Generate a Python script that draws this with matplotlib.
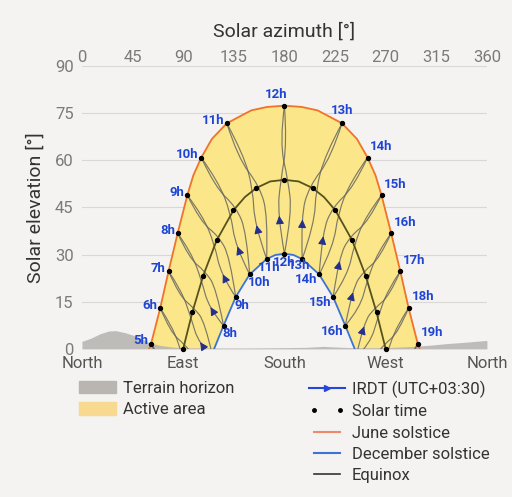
import matplotlib
matplotlib.use('Agg')
import matplotlib.pyplot as plt
from matplotlib.lines import Line2D
from matplotlib.patches import Patch, PathPatch
from matplotlib.path import Path
from matplotlib.legend_handler import HandlerLine2D

plt.rcParams['font.family'] = ['Roboto', 'DejaVu Sans']

# --- day paths (azimuth [deg], elevation [deg]) ---
june_az = [59.8, 61.5, 69.6, 77.0, 85.1, 93.7, 99.0, 106.1, 115.5, 128.8, 150.5, 164.6, 180.0,
           195.4, 209.5, 231.2, 244.5, 253.9, 261.0, 266.3, 274.9, 283.0, 290.4, 298.5, 300.2]
june_el = [0.0, 1.7, 13.0, 24.7, 36.8, 48.9, 55.2, 60.9, 66.8, 71.8, 75.9, 77.0, 77.4,
           77.0, 75.9, 71.8, 66.8, 60.9, 55.2, 48.9, 36.8, 24.7, 13.0, 1.7, 0.0]

eq_az = [90.0, 98.1, 107.8, 119.7, 134.7, 144.8, 155.0, 167.4, 180.0,
         192.6, 205.0, 215.2, 225.3, 240.3, 252.2, 261.9, 270.0]
eq_el = [0.0, 11.6, 23.3, 34.5, 44.1, 48.3, 51.2, 53.3, 53.8,
         53.3, 51.2, 48.3, 44.1, 34.5, 23.3, 11.6, 0.0]

dec_az = [117.5, 125.9, 136.7, 149.1, 164.2, 172.0, 180.0, 188.0, 195.8, 210.9, 223.3, 234.1, 242.5]
dec_el = [0.0, 7.4, 16.5, 23.7, 28.6, 29.9, 30.3, 29.9, 28.6, 23.7, 16.5, 7.4, 0.0]

# --- solar time dots ---
june_hours = list(range(5, 20))
june_dot_az = [61.5, 69.6, 77.0, 85.1, 93.7, 106.1, 128.8, 180.0, 231.2, 253.9, 266.3, 274.9, 283.0, 290.4, 298.5]
june_dot_el = [1.7, 13.0, 24.7, 36.8, 48.9, 60.9, 71.8, 77.4, 71.8, 60.9, 48.9, 36.8, 24.7, 13.0, 1.7]

eq_dot_az = [90.0, 98.1, 107.8, 119.7, 134.7, 155.0, 180.0, 205.0, 225.3, 240.3, 252.2, 261.9, 270.0]
eq_dot_el = [0.0, 11.6, 23.3, 34.5, 44.1, 51.2, 53.8, 51.2, 44.1, 34.5, 23.3, 11.6, 0.0]

dec_hours = list(range(8, 17))
dec_dot_az = [125.9, 136.7, 149.1, 164.2, 180.0, 195.8, 210.9, 223.3, 234.1]
dec_dot_el = [7.4, 16.5, 23.7, 28.6, 30.3, 28.6, 23.7, 16.5, 7.4]

# --- terrain horizon ---
terrain_az = [0, 8, 16, 24, 30, 38, 46, 55, 60, 70, 80, 90, 120, 150, 180, 200, 215, 225,
              240, 270, 295, 310, 325, 340, 350, 360]
terrain_el = [2.4, 3.4, 4.8, 5.7, 5.8, 5.2, 4.3, 2.9, 1.9, 1.1, 0.6, 0.35, 0.3, 0.3, 0.4, 0.5,
              0.8, 0.6, 0.4, 0.4, 0.8, 1.2, 1.7, 2.1, 2.4, 2.7]

# --- IRDT clock-hour analemmas, two branches per hour (branch a carries the arrow) ---
loop_a = {
    5: [(61.5, 1.7), (71.7, -4.2), (79.9, -13.0)],
    6: [(69.6, 13.0), (80.3, 7.2), (88.9, -1.5), (95.0, -9.7), (107.0, -14.0)],
    7: [(77.0, 24.7), (88.0, 18.9), (96.9, 10.1), (103.7, 1.7), (116.5, -2.8)],
    8: [(85.1, 36.8), (97.0, 30.8), (106.4, 21.8), (112.8, 13.0), (125.9, 7.4)],
    9: [(93.7, 48.9), (107.4, 42.4), (118.0, 33.2), (123.6, 23.6), (136.7, 16.5)],
    10: [(106.1, 60.9), (121.5, 53.1), (132.4, 43.0), (136.4, 32.7), (149.1, 23.7)],
    11: [(128.8, 71.8), (143.7, 61.9), (152.1, 50.6), (153.3, 39.8), (164.2, 28.6)],
    12: [(180.0, 77.4), (182.3, 65.6), (176.8, 53.8), (173.7, 43.2), (180.0, 30.3)],
    13: [(231.2, 71.8), (221.4, 60.8), (202.1, 51.8), (194.7, 42.3), (195.8, 28.6)],
    14: [(253.9, 60.9), (241.5, 51.4), (223.0, 45.2), (213.7, 37.2), (210.9, 23.7)],
    15: [(266.3, 48.9), (254.6, 40.5), (238.6, 35.9), (228.6, 29.4), (223.3, 16.5)],
    16: [(274.9, 36.8), (264.6, 28.8), (250.8, 24.8), (240.7, 19.5), (234.1, 7.4)],
    17: [(283.0, 24.7), (273.4, 16.9), (260.7, 13.1), (250.7, 8.7), (243.5, -2.8)],
    18: [(290.4, 13.0), (281.1, 5.2), (268.9, 1.5), (259.5, -2.7), (253.0, -14.0)],
    19: [(298.5, 1.7), (289.7, -6.2), (277.9, -10.0)],
}
loop_b = {
    5: [(61.5, 1.7), (70.4, -6.2), (82.1, -10.0)],
    6: [(69.6, 13.0), (78.9, 5.2), (91.1, 1.5), (100.5, -2.7), (107.0, -14.0)],
    7: [(77.0, 24.7), (86.6, 16.9), (99.3, 13.1), (109.3, 8.7), (116.5, -2.8)],
    8: [(85.1, 36.8), (95.4, 28.8), (109.2, 24.8), (119.3, 19.5), (125.9, 7.4)],
    9: [(93.7, 48.9), (105.4, 40.5), (121.4, 35.9), (131.4, 29.4), (136.7, 16.5)],
    10: [(106.1, 60.9), (118.5, 51.4), (137.0, 45.2), (146.3, 37.2), (149.1, 23.7)],
    11: [(128.8, 71.8), (138.6, 60.8), (157.9, 51.8), (165.3, 42.3), (164.2, 28.6)],
    12: [(180.0, 77.4), (175.8, 65.6), (183.2, 53.8), (186.7, 43.2), (180.0, 30.3)],
    13: [(231.2, 71.8), (216.3, 61.9), (207.9, 50.6), (206.7, 39.8), (195.8, 28.6)],
    14: [(253.9, 60.9), (238.5, 53.1), (227.6, 43.0), (223.6, 32.7), (210.9, 23.7)],
    15: [(266.3, 48.9), (252.6, 42.4), (242.0, 33.2), (236.4, 23.6), (223.3, 16.5)],
    16: [(274.9, 36.8), (263.0, 30.8), (253.6, 21.8), (247.2, 13.0), (234.1, 7.4)],
    17: [(283.0, 24.7), (272.0, 18.9), (263.1, 10.1), (256.3, 1.7), (243.5, -2.8)],
    18: [(290.4, 13.0), (279.7, 7.2), (271.1, -1.5), (265.0, -9.7), (253.0, -14.0)],
    19: [(298.5, 1.7), (288.3, -4.2), (280.1, -13.0)],
}
arrow_hours = list(range(7, 18))

compass = ['North', 'East', 'South', 'West', 'North']

BG = '#f4f3f1'
ORANGE = '#f0732a'
BLUE = '#3c74d6'
OLIVE = '#55521c'
LABEL = '#1f45d4'
NAVY = '#24308c'
GREY = '#7a7a7a'


def smooth_path(pts):
    # quadratic B-spline through the read points (rendered by matplotlib's Path)
    verts = [pts[0]]
    codes = [Path.MOVETO]
    for i in range(1, len(pts) - 1):
        nxt = pts[i + 1] if i == len(pts) - 2 else ((pts[i][0] + pts[i + 1][0]) / 2,
                                                     (pts[i][1] + pts[i + 1][1]) / 2)
        verts += [pts[i], nxt]
        codes += [Path.CURVE3, Path.CURVE3]
    return Path(verts, codes)


fig = plt.figure(figsize=(5.12, 4.97), dpi=100, facecolor=BG)
ax = fig.add_axes([0.160, 0.298, 0.791, 0.569], facecolor=BG)

# active area: between June and December paths
fill_az = june_az + dec_az[::-1]
fill_el = june_el + dec_el[::-1]
ax.fill(fill_az, fill_el, color='#fce68a', lw=0, zorder=1)

# terrain
ax.fill_between(terrain_az, 0, terrain_el, color='#b9b6b2', lw=0, alpha=0.9, zorder=2)

# analemmas
for h in loop_a:
    for pts in (loop_a[h], loop_b[h]):
        ax.add_patch(PathPatch(smooth_path(pts), fill=False, edgecolor='#66665f', lw=0.85,
                               alpha=0.85, zorder=3))
for h in arrow_hours:
    m = ((loop_a[h][2][0] + loop_a[h][3][0]) / 2, (loop_a[h][2][1] + loop_a[h][3][1]) / 2)
    p3, p4 = loop_a[h][3], loop_a[h][4]
    cx = 0.25 * m[0] + 0.5 * p3[0] + 0.25 * p4[0]
    cy = 0.25 * m[1] + 0.5 * p3[1] + 0.25 * p4[1]
    dx, dy = (m[0] - p4[0]) * 0.06, (m[1] - p4[1]) * 0.06
    ax.annotate('', xy=(cx + dx, cy + dy), xytext=(cx - dx, cy - dy),
                arrowprops=dict(arrowstyle='-|>', color=NAVY, lw=0.8,
                                mutation_scale=12, shrinkA=0, shrinkB=0), zorder=4)

# day paths
ax.plot(june_az, june_el, color=ORANGE, lw=1.3, zorder=5)
ax.plot(eq_az, eq_el, color=OLIVE, lw=1.3, zorder=5)
ax.plot(dec_az, dec_el, color=BLUE, lw=1.3, zorder=5)

ax.scatter(june_dot_az, june_dot_el, s=8, color='black', zorder=6, clip_on=False)
ax.scatter(eq_dot_az, eq_dot_el, s=8, color='black', zorder=6, clip_on=False)
ax.scatter(dec_dot_az, dec_dot_el, s=8, color='black', zorder=6, clip_on=False)

# hour labels
for h, x, y in zip(june_hours, june_dot_az, june_dot_el):
    if h < 12:
        off, ha = (-2, 2), 'right'
    elif h == 12:
        off, ha = (-6, 8), 'center'
    elif h == 13:
        off, ha = (0, 9), 'center'
    else:
        off, ha = (2, 8), 'left'
    ax.annotate(f'{h}h', (x, y), xytext=off, textcoords='offset points', ha=ha,
                va='center', color=LABEL, fontsize=9.5, fontweight='bold', zorder=7)
dec_offsets = {11: (2, -6), 12: (0, -6), 13: (-2, -5)}
for h, x, y in zip(dec_hours, dec_dot_az, dec_dot_el):
    if h < 11:
        off, ha = (-1, -6), 'left'
    elif h <= 13:
        off, ha = dec_offsets[h], 'center'
    else:
        off, ha = (-1, -4), 'right'
    ax.annotate(f'{h}h', (x, y), xytext=off, textcoords='offset points', ha=ha,
                va='center', color=LABEL, fontsize=9.5, fontweight='bold', zorder=7)

# axes styling
ax.set_xlim(0, 360)
ax.set_ylim(0, 90)
ax.set_xticks(range(0, 361, 45))
ax.set_yticks(range(0, 91, 15))
ax.xaxis.tick_top()
ax.xaxis.set_label_position('top')
ax.tick_params(axis='both', length=0, labelsize=12, labelcolor=GREY)
ax.tick_params(axis='x', pad=0.5)
ax.tick_params(axis='y', pad=6)
ax.grid(axis='y', color='#d9d8d6', lw=0.8)
ax.set_axisbelow(True)
for s in ax.spines.values():
    s.set_visible(False)
ax.set_xlabel('Solar azimuth [°]', fontsize=14, color='#333333', labelpad=10)
ax.set_ylabel('Solar elevation [°]', fontsize=14, color='#333333', labelpad=7)

sec = ax.secondary_xaxis('bottom')
sec.set_xticks([0, 90, 180, 270, 360], labels=compass)
sec.tick_params(length=0, labelsize=12, labelcolor='#555555', pad=5)
for s in sec.spines.values():
    s.set_visible(False)

# legends
left_handles = [Patch(color='#b9b6b2', label='Terrain horizon'),
                Patch(color='#f7d98f', label='Active area')]
irdt = Line2D([], [], color='#2747d8', lw=1.5, marker='>', markersize=5, label='IRDT (UTC+03:30)')
right_handles = [irdt,
                 Line2D([], [], ls='none', marker='o', markersize=2.5, color='black', label='Solar time'),
                 Line2D([], [], color='#ee8a6a', lw=1.5, label='June solstice'),
                 Line2D([], [], color=BLUE, lw=1.5, label='December solstice'),
                 Line2D([], [], color='#333333', lw=1.2, label='Equinox')]
leg_kw = dict(frameon=False, fontsize=12, labelcolor='#333333', borderpad=0, borderaxespad=0,
              handlelength=2.2, handletextpad=0.4, labelspacing=0.38, loc='upper left')
fig.legend(handles=left_handles, bbox_to_anchor=(0.155, 0.234), handleheight=0.8, **leg_kw)
fig.legend(handles=right_handles, bbox_to_anchor=(0.603, 0.234), numpoints=2,
           handler_map={irdt: HandlerLine2D(numpoints=1)}, **leg_kw)

fig.savefig('out.png', dpi=100, facecolor=BG)
